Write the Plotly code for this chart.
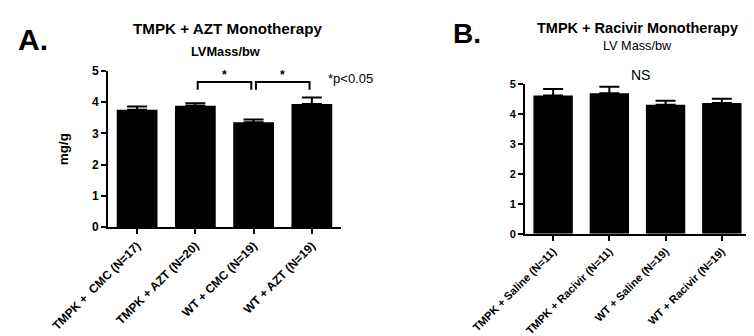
import plotly.graph_objects as go

# ---- data ----
cats_a = ["TMPK +  CMC (N=17)", "TMPK + AZT (N=20)", "WT + CMC (N=19)", "WT + AZT (N=19)"]
vals_a = [3.76, 3.89, 3.36, 3.94]
err_a = [0.10, 0.08, 0.09, 0.21]

cats_b = ["TMPK + Saline (N=11)", "TMPK + Racivir (N=11)", "WT + Saline (N=19)", "WT + Racivir (N=19)"]
vals_b = [4.61, 4.68, 4.30, 4.36]
err_b = [0.21, 0.22, 0.13, 0.14]

yticks = [0, 1, 2, 3, 4, 5]
sig_pairs_a = [(1, 2), (2, 3)]
bracket_low, bracket_high = 4.40, 4.65

FONT = "Liberation Sans, Arial, sans-serif"
idx_a = list(range(len(cats_a)))
idx_b = list(range(len(cats_b)))

fig = go.Figure()

def bar(x, y, e, xa, ya):
    return go.Bar(x=x, y=y, width=0.7, xaxis=xa, yaxis=ya,
                  marker=dict(color="black", line=dict(width=0)),
                  error_y=dict(type="data", array=e, arrayminus=[0]*len(e), color="black",
                               thickness=2, width=10),
                  showlegend=False, hoverinfo="skip")

fig.add_trace(bar(idx_a, vals_a, err_a, "x", "y"))
fig.add_trace(bar(idx_b, vals_b, err_b, "x2", "y2"))

# significance brackets
for (i, j) in sig_pairs_a:
    x0, x1 = i + 0.04, j - 0.04
    fig.add_trace(go.Scatter(x=[x0, x0, x1, x1], y=[bracket_low, bracket_high, bracket_high, bracket_low],
                             mode="lines", line=dict(color="black", width=2),
                             xaxis="x", yaxis="y", showlegend=False, hoverinfo="skip"))
    fig.add_annotation(x=(i + j) / 2, y=bracket_high, xref="x", yref="y", text="<b>*</b>",
                       showarrow=False, yanchor="bottom", yshift=-2,
                       font=dict(family=FONT, size=12, color="black"))

ax_common = dict(showgrid=False, zeroline=False, showline=True, linecolor="black", linewidth=2,
                 ticks="outside", ticklen=5, tickwidth=2, tickcolor="black", automargin=False)

fig.update_layout(
    width=754, height=336,
    margin=dict(l=0, r=0, t=0, b=0),
    paper_bgcolor="white", plot_bgcolor="white",
    font=dict(family=FONT, color="black"),
    bargap=0.3,
    xaxis=dict(domain=[0.1326, 0.4416], range=[-0.5, 3.5], tickvals=idx_a,
               ticktext=["<b>%s</b>" % c for c in cats_a], tickangle=-45,
               tickfont=dict(size=12, family=FONT), anchor="y", **ax_common),
    yaxis=dict(domain=[0.348, 0.8125], range=[0, 5], tickvals=yticks,
               ticktext=["<b>%d</b>" % t for t in yticks], tickfont=dict(size=12, family=FONT),
               title=dict(text="<b>mg/g</b>", font=dict(size=13.5, family=FONT), standoff=20),
               anchor="x", **ax_common),
    xaxis2=dict(domain=[0.6857, 0.984], range=[-0.5, 3.5], tickvals=idx_b,
                ticktext=["<b>%s</b>" % c for c in cats_b], tickangle=-45,
                tickfont=dict(size=11, family=FONT), anchor="y2", **ax_common),
    yaxis2=dict(domain=[0.328, 0.7747], range=[0, 5], tickvals=yticks,
                ticktext=["<b>%d</b>" % t for t in yticks], tickfont=dict(size=11, family=FONT),
                anchor="x2", **ax_common),
)

def txt(x, y, text, size, xanchor="center"):
    fig.add_annotation(x=x, y=y, xref="paper", yref="paper", text=text, showarrow=False,
                       xanchor=xanchor, yanchor="middle", font=dict(family=FONT, size=size, color="black"))

txt(8 / 754, 1 - 31 / 336, "<b>A.</b>", 30, "left")
txt(219 / 754, 1 - 20 / 336, "<b>TMPK + AZT Monotherapy</b>", 15.2)
txt(217 / 754, 1 - 43 / 336, "<b>LVMass/bw</b>", 12.8)
txt(342 / 754, 1 - 70 / 336, "*p<0.05", 13)

txt(443 / 754, 1 - 26 / 336, "<b>B.</b>", 28, "left")
txt(629 / 754, 1 - 20 / 336, "<b>TMPK + Racivir Monotherapy</b>", 14.5)
txt(629 / 754, 1 - 38 / 336, "LV Mass/bw", 12.7)
txt(632 / 754, 1 - 67 / 336, "NS", 14)

fig.write_html("out.html")
